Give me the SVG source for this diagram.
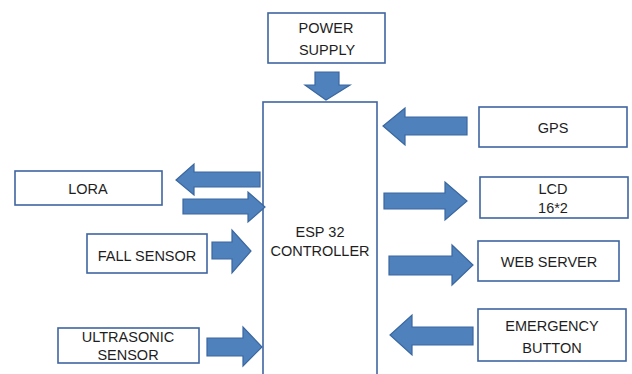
<svg xmlns="http://www.w3.org/2000/svg" width="632" height="374" viewBox="0 0 632 374">
<style>
.box{fill:#fff;stroke:#3f64a0;stroke-width:1.6}
.arr{fill:#4f81bd;stroke:#3a679f;stroke-width:1.2;stroke-linejoin:miter}
text{font-family:"Liberation Sans",Arial,sans-serif;font-size:14.5px;fill:#1e1e1e;text-anchor:middle}
</style>
<rect width="632" height="374" fill="#fff"/>
<g id="esp32">
<rect class="box" x="263" y="102" width="114" height="280"/>
<text x="320" y="237" font-size="14.5">ESP 32</text>
<text x="320" y="256" font-size="13">CONTROLLER</text>
</g>
<g id="power">
<rect class="box" x="268" y="13" width="117" height="50"/>
<text x="326" y="33">POWER</text>
<text x="327" y="55">SUPPLY</text>
</g>
<g id="gps">
<rect class="box" x="479" y="107" width="148" height="40"/>
<text x="553" y="133">GPS</text>
</g>
<g id="lcd">
<rect class="box" x="480" y="177" width="148" height="41"/>
<text x="553" y="194">LCD</text>
<text x="553" y="213">16*2</text>
</g>
<g id="lora">
<rect class="box" x="15" y="171" width="147" height="34"/>
<text x="88" y="194">LORA</text>
</g>
<g id="fall">
<rect class="box" x="87" y="234" width="120" height="39"/>
<text x="147" y="261">FALL SENSOR</text>
</g>
<g id="ultrasonic">
<rect class="box" x="58" y="328" width="141" height="35"/>
<text x="128" y="342">ULTRASONIC</text>
<text x="128" y="360">SENSOR</text>
</g>
<g id="webserver">
<rect class="box" x="478" y="241" width="141" height="40"/>
<text x="549" y="267">WEB SERVER</text>
</g>
<g id="emergency">
<rect class="box" x="478" y="309" width="148" height="52"/>
<text x="552" y="331">EMERGENCY</text>
<text x="552" y="353">BUTTON</text>
</g>
<g id="connectors">
<polygon class="arr" points="315,72 339,72 339,85 350,85 326,100 305,85 315,85"/>
<polygon class="arr" points="467,117 405,117 405,108 383,126 405,145 405,135 467,135"/>
<polygon class="arr" points="384,193 445,193 445,182 467,201 445,220 445,209 384,209"/>
<polygon class="arr" points="260,172 194,172 194,164 176,180 194,195 194,187 260,187"/>
<polygon class="arr" points="183,199 248,199 248,192 265,207 248,222 248,214 183,214"/>
<polygon class="arr" points="212,242 232,242 232,230 251,251 232,273 232,259 212,259"/>
<polygon class="arr" points="207,338 243,338 243,327 262,347 243,366 243,356 207,356"/>
<polygon class="arr" points="389,256 452,256 452,245 473,265 452,285 452,275 389,275"/>
<polygon class="arr" points="473,327 412,327 412,315 390,335 412,355 412,345 473,345"/>
</g>
</svg>
